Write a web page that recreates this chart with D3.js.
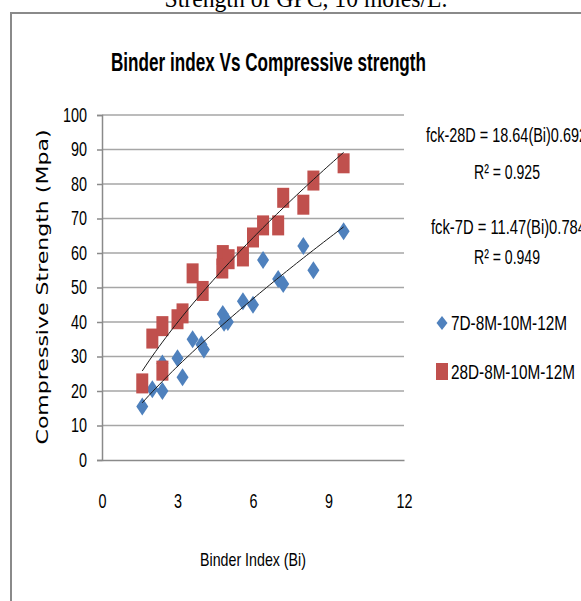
<!DOCTYPE html>
<html>
<head>
<meta charset="utf-8">
<script src="https://cdn.jsdelivr.net/npm/d3@7"></script>
<style>
  html, body { margin: 0; padding: 0; background: #fff; }
  svg { display: block; }
</style>
</head>
<body>
<div id="chart"></div>
<script>
// ---- data ----
const xTicks = [0, 3, 6, 9, 12];
const yTicks = [0, 10, 20, 30, 40, 50, 60, 70, 80, 90, 100];

const bi7D  = [1.6, 2.0, 2.4, 2.4, 3.0, 3.2, 3.6, 3.95, 4.05, 4.8, 4.85, 5.0, 5.6, 6.0, 6.4, 7.0, 7.2, 8.0, 8.4, 9.6];
const fck7D = [15.5, 20.5, 20.0, 28.0, 29.5, 24.0, 35.0, 33.5, 32.0, 42.3, 39.8, 40.0, 46.0, 45.0, 58.0, 52.5, 51.0, 62.0, 55.0, 66.3];

const bi28D  = [1.6, 2.0, 2.4, 2.4, 3.0, 3.2, 3.6, 4.0, 4.8, 4.78, 5.03, 5.6, 6.0, 6.4, 7.0, 7.2, 8.0, 8.4, 9.6];
const fck28D = [22.2, 35.2, 25.9, 38.8, 40.8, 42.5, 54.1, 49.0, 59.4, 55.5, 58.2, 59.0, 64.5, 68.0, 68.0, 76.0, 74.0, 81.0, 86.0];

// power trendlines shown on the chart: fck = a * Bi^b
const trend7D  = [11.47, 0.784];
const trend28D = [18.64, 0.692];

const seriesNames = ["7D-8M-10M-12M", "28D-8M-10M-12M"];
const eqTexts = ["fck-28D = 18.64(Bi)0.692", "R\u00B2 = 0.925", "fck-7D = 11.47(Bi)0.784", "R\u00B2 = 0.949"];

// ---- drawing ----
const W = 581, H = 601;
const blue = "#4F81BD", red = "#C0504D";
const narrow = "'Liberation Sans Narrow', 'Liberation Sans', Arial, sans-serif";

const svg = d3.select("#chart").append("svg").attr("width", W).attr("height", H);
svg.append("rect").attr("width", W).attr("height", H).attr("fill", "#fff");

// caption cut off at top
svg.append("text").attr("x", 306).attr("y", 7)
  .attr("text-anchor", "middle")
  .attr("font-family", "'Liberation Serif', 'Times New Roman', serif")
  .attr("font-size", 25)
  .attr("textLength", 283).attr("lengthAdjust", "spacingAndGlyphs")
  .text("Strength of GPC, 10 moles/L.");

// chart frame
svg.append("rect").attr("x", 11).attr("y", 13).attr("width", 620).attr("height", 640)
  .attr("fill", "#fff").attr("stroke", "#8a8a8a").attr("stroke-width", 2);

// title
svg.append("text").attr("x", 268.5).attr("y", 71)
  .attr("text-anchor", "middle").attr("font-family", narrow)
  .attr("font-weight", "bold").attr("font-size", 26)
  .attr("textLength", 315).attr("lengthAdjust", "spacingAndGlyphs")
  .text("Binder index Vs Compressive strength");

const x = d3.scaleLinear().domain([0, 12]).range([102, 404]);
const y = d3.scaleLinear().domain([0, 100]).range([460, 115]);

// gridlines
svg.append("g").selectAll("line").data(yTicks.filter(d => d > 0)).join("line")
  .attr("x1", x(0)).attr("x2", x(12))
  .attr("y1", d => y(d)).attr("y2", d => y(d))
  .attr("stroke", "#a6a6a6").attr("stroke-width", 1.5);

// y axis
const yAxis = svg.append("g").attr("transform", `translate(${x(0)},0)`)
  .call(d3.axisLeft(y).tickValues(yTicks).tickSize(5).tickPadding(10));
yAxis.select(".domain").attr("stroke", "#8a8a8a").attr("stroke-width", 1.5);
yAxis.selectAll(".tick line").attr("stroke", "#8a8a8a").attr("stroke-width", 1.5);
yAxis.selectAll(".tick text").attr("font-family", narrow).attr("font-size", 20).attr("fill", "#000")
  .attr("textLength", d => String(d).length * 8).attr("lengthAdjust", "spacingAndGlyphs");

// x axis
const xAxis = svg.append("g").attr("transform", `translate(0,${y(0)})`)
  .call(d3.axisBottom(x).tickValues(xTicks).tickSize(0).tickPadding(34));
xAxis.select(".domain").attr("stroke", "#8a8a8a").attr("stroke-width", 1.5);
xAxis.selectAll(".tick text").attr("font-family", narrow).attr("font-size", 20).attr("fill", "#000")
  .attr("textLength", d => String(d).length * 8).attr("lengthAdjust", "spacingAndGlyphs");

// axis titles
svg.append("text").attr("transform", "translate(48,287) rotate(-90)")
  .attr("text-anchor", "middle").attr("font-family", "'DejaVu Sans', Verdana, sans-serif")
  .attr("font-size", 15)
  .attr("textLength", 315).attr("lengthAdjust", "spacingAndGlyphs")
  .text("Compressive Strength (Mpa)");

svg.append("text").attr("x", 253).attr("y", 566)
  .attr("text-anchor", "middle").attr("font-family", narrow).attr("font-size", 19)
  .attr("textLength", 106).attr("lengthAdjust", "spacingAndGlyphs")
  .text("Binder Index (Bi)");

// markers
const diamond = (w, h) => `M0,${-h/2}L${w/2},0L0,${h/2}L${-w/2},0Z`;
svg.append("g").selectAll("path").data(d3.range(bi7D.length)).join("path")
  .attr("d", diamond(12, 18))
  .attr("transform", i => `translate(${x(bi7D[i])},${y(fck7D[i])})`)
  .attr("fill", blue);

svg.append("g").selectAll("rect").data(d3.range(bi28D.length)).join("rect")
  .attr("x", i => x(bi28D[i]) - 6).attr("y", i => y(fck28D[i]) - 10)
  .attr("width", 12).attr("height", 20)
  .attr("fill", red);

// trendlines
function trendPts(coef, xs) {
  const lo = d3.min(xs), hi = d3.max(xs);
  return d3.range(0, 61).map(k => {
    const b = lo + (hi - lo) * k / 60;
    return [b, coef[0] * Math.pow(b, coef[1])];
  });
}
const line = d3.line().x(d => x(d[0])).y(d => y(d[1]));
[[trend7D, bi7D], [trend28D, bi28D]].forEach(([c, xs]) => {
  svg.append("path").attr("d", line(trendPts(c, xs)))
    .attr("fill", "none").attr("stroke", "#1a1a1a").attr("stroke-width", 1);
});

// equation labels
const eqStyle = sel => sel.attr("font-family", narrow).attr("font-size", 20).attr("fill", "#000");
function eqLabel(xx, yy, txt, anchor, len) {
  const t = svg.append("text").attr("x", xx).attr("y", yy).attr("text-anchor", anchor).call(eqStyle);
  if (len) t.attr("textLength", len).attr("lengthAdjust", "spacingAndGlyphs");
  t.text(txt);
}
eqLabel(426, 142, eqTexts[0], "start", 161);
eqLabel(507, 179, eqTexts[1], "middle", 66);
eqLabel(431, 234, eqTexts[2], "start", 155);
eqLabel(507, 264, eqTexts[3], "middle", 66);

// legend
svg.append("path").attr("d", diamond(11, 14)).attr("transform", "translate(442,323)").attr("fill", blue);
svg.append("rect").attr("x", 436).attr("y", 363).attr("width", 12).attr("height", 17).attr("fill", red);
svg.append("text").attr("x", 451).attr("y", 330).call(eqStyle)
  .attr("textLength", 116).attr("lengthAdjust", "spacingAndGlyphs").text(seriesNames[0]);
svg.append("text").attr("x", 451).attr("y", 379).call(eqStyle)
  .attr("textLength", 124).attr("lengthAdjust", "spacingAndGlyphs").text(seriesNames[1]);
</script>
</body>
</html>
